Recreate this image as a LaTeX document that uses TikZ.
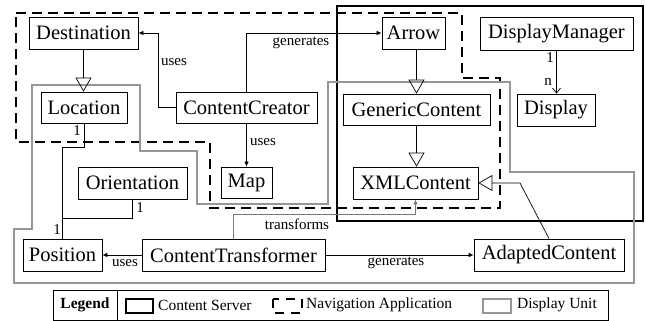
\documentclass[tikz,border=0pt]{standalone}
\usepackage{fontspec}
\setmainfont{Liberation Serif}
\usetikzlibrary{arrows.meta}
\definecolor{dugray}{RGB}{150,150,150}
\begin{document}
\begin{tikzpicture}[x=1pt,y=-1pt,
  cls/.style={draw,line width=0.8pt,inner sep=0pt,font=\fontsize{20.5}{24}\selectfont},
  lbl/.style={inner sep=0pt,font=\fontsize{15}{18}\selectfont},
  assoc/.style={line width=0.7pt,-{Latex[length=5pt,width=4.5pt]}},
  gen/.style={line width=0.7pt,-{Triangle[open,length=14pt,width=16pt]}},
  nav/.style={line width=2.6pt,dash pattern=on 10pt off 6pt},
  srv/.style={line width=2.6pt},
  du/.style={line width=2.6pt,draw=dugray}]
\useasboundingbox (0,0) rectangle (646,321);
% containers
\draw[srv] (337,6) rectangle (643,221);
\draw[nav] (16,13) -- (462,13) -- (462,78) -- (500,78) -- (500,208) -- (210,208) -- (210,142) -- (16,142) -- cycle;
\draw[du] (32,85) -- (140,85) -- (140,151) -- (197,151) -- (197,204) -- (328,204) -- (328,82) -- (510,82) -- (510,172) -- (634,172) -- (634,283) -- (14,283) -- (14,229) -- (32,229) -- cycle;
% classes
\node[cls,minimum width=109pt,minimum height=32pt] (dest) at (83.5,33) {Destination};
\node[cls,minimum width=86pt,minimum height=31pt] (loc) at (84,107.5) {Location};
\node[cls,minimum width=141pt,minimum height=31pt] (cc) at (246.5,107.5) {ContentCreator};
\node[cls,minimum width=51pt,minimum height=31pt] (map) at (246.5,182.5) {Map};
\node[cls,minimum width=63pt,minimum height=32pt] (arrow) at (413.5,33) {Arrow};
\node[cls,minimum width=153pt,minimum height=33pt] (dm) at (556.5,33.5) {DisplayManager};
\node[cls,minimum width=147pt,minimum height=31pt] (gc) at (416.5,109.5) {GenericContent};
\node[cls,minimum width=78pt,minimum height=32pt] (disp) at (556,110) {Display};
\node[cls,minimum width=125pt,minimum height=32pt] (xml) at (415.5,183) {XMLContent};
\node[cls,minimum width=109pt,minimum height=32pt] (orient) at (132.5,183) {Orientation};
\node[cls,minimum width=79pt,minimum height=32pt] (pos) at (62.5,255) {Position};
\node[cls,minimum width=183pt,minimum height=32pt] (ct) at (233.5,255) {ContentTransformer};
\node[cls,minimum width=150pt,minimum height=32pt] (ac) at (549,255) {AdaptedContent};
% connectors
\draw[gen] (dest.south) -- (dest.south |- loc.north);
\draw[assoc] (cc.west) -- (158,107.5) |- (dest.east);
\draw[assoc] (cc.north) |- (arrow.west);
\draw[assoc] (cc.south) -- (map.north);
\draw[gen] (gc.north |- arrow.south) -- (gc.north);
\draw[gen] (gc.south) -- (gc.south |- xml.north);
\draw[line width=0.7pt,-{Straight Barb[length=5pt,width=8pt]}] (dm.south) -- (dm.south |- disp.north);
\coordinate (j) at (64,218);
\draw[line width=0.7pt] (loc.south) -- ++(0,24) -| (pos.north);
\draw[line width=0.7pt] (orient.south) |- (pos.north |- j);
\draw[assoc] (ct.west) -- (pos.east);
\draw[assoc] (ct.east) -- (ac.west);
\draw[assoc,draw=dugray!80!black] (ct.north) -- ++(0,-24) -| (xml.south);
\draw[gen] (ac.north) -- (520,183) -- (xml.east);
% labels
\node[lbl] (l1) at (174,62) {uses};
\node[lbl] (l2) at (301,43) {generates};
\node[lbl] (l3) at (263,142) {uses};
\node[lbl] (l4) at (77,131) {1};
\node[lbl] (l5) at (140,208) {1};
\node[lbl] (l6) at (57,230) {1};
\node[lbl] (l7) at (550,58) {1};
\node[lbl] (l8) at (548,82) {n};
\node[lbl] (l9) at (125,263) {uses};
\node[lbl] (l10) at (297,224) {transforms};
\node[lbl] (l11) at (396,263) {generates};
% legend
\draw[line width=0.8pt] (53,290) rectangle (608,320);
\draw[line width=0.8pt] (117,290) -- (117,320);
\node[lbl,font=\fontsize{15.5}{18}\selectfont\bfseries] (lg) at (85,305) {Legend};
\draw[srv] (126,299) rectangle (153,313);
\node[lbl,anchor=west,font=\fontsize{15.5}{18}\selectfont] (lcs) at (158,305) {Content Server};
\draw[line width=2.6pt,dash pattern=on 9pt off 7pt] (273,299) rectangle (302,313);
\node[lbl,anchor=west,font=\fontsize{15.5}{18}\selectfont] (lna) at (306,305) {Navigation Application};
\draw[du] (483,299) rectangle (511,313);
\node[lbl,anchor=west,font=\fontsize{15.5}{18}\selectfont] (ldu) at (517,305) {Display Unit};
\end{tikzpicture}
\end{document}
